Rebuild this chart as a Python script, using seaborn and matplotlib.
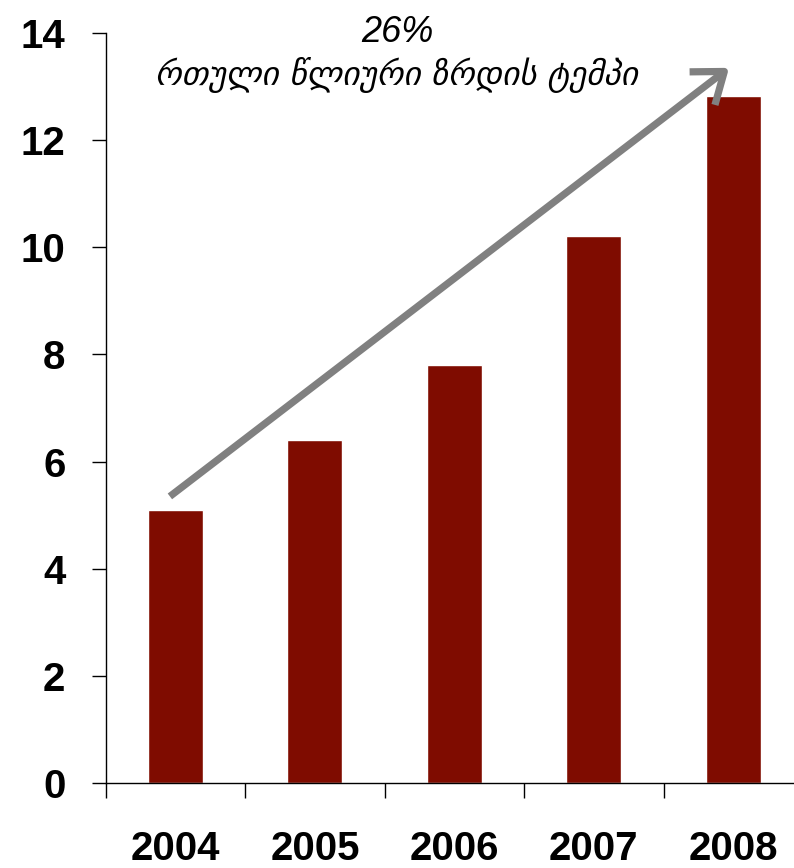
import matplotlib
matplotlib.use("Agg")
import matplotlib.pyplot as plt
import seaborn as sns
import numpy as np

years = ["2004", "2005", "2006", "2007", "2008"]
values = [5.1, 6.4, 7.8, 10.22, 12.83]
cagr_label = "26%"
cagr_text = "რთული წლიური ზრდის ტემპი"
bar_color = "#7f0c00"

sns.set_style("ticks")
plt.rcParams['font.family'] = ['Liberation Sans', 'DejaVu Sans']
plt.rcParams['text.color'] = 'black'
plt.rcParams['xtick.color'] = 'black'
plt.rcParams['ytick.color'] = 'black'
plt.rcParams['xtick.labelcolor'] = 'black'
plt.rcParams['ytick.labelcolor'] = 'black'

fig = plt.figure(figsize=(7.94, 8.68), dpi=100)
ax = fig.add_axes([105.75 / 794, 85 / 868, (803 - 105.75) / 794, 750 / 868])

sns.barplot(x=years, y=values, color=bar_color, saturation=1, width=0.395, ax=ax)

ax.set_xlim(-0.5, 4.5)
ax.set_ylim(0, 14)
ax.set_yticks(np.arange(0, 15, 2))
ax.set_yticklabels([str(v) for v in range(0, 15, 2)], fontsize=29, fontweight='bold')
ax.tick_params(axis='y', direction='out', length=10, width=1, pad=19, color='black')

ax.set_xticks(range(len(years)))
ax.set_xticklabels(years, fontsize=29, fontweight='bold')
ax.tick_params(axis='x', which='major', length=0, pad=34)
ax.set_xticks(np.arange(-0.5, 5, 1), minor=True)
ax.tick_params(axis='x', which='minor', direction='out', length=11, width=1, color='black')

for s in ['top', 'right']:
    ax.spines[s].set_visible(False)
for s in ['left', 'bottom']:
    ax.spines[s].set_color('black')
    ax.spines[s].set_linewidth(1)
ax.set_xlabel("")
ax.set_ylabel("")

ax.annotate("", xy=(3.97, 13.35), xytext=(-0.04, 5.35),
            arrowprops=dict(arrowstyle="->,head_length=1.0,head_width=0.75",
                            mutation_scale=20,
                            color="#808080", lw=5.2, shrinkA=0, shrinkB=0,
                            capstyle='butt', joinstyle='round'))

fig.text(397 / 794, 1 - 33 / 868, cagr_label, ha='center', va='center',
         fontsize=26, style='italic', family=['Liberation Sans'], color='black')
fig.text(396 / 794, 1 - 75 / 868, cagr_text, ha='center', va='center',
         fontsize=24, style='italic', family=['DejaVu Sans'], color='black')

fig.savefig("out.png", dpi=100)
